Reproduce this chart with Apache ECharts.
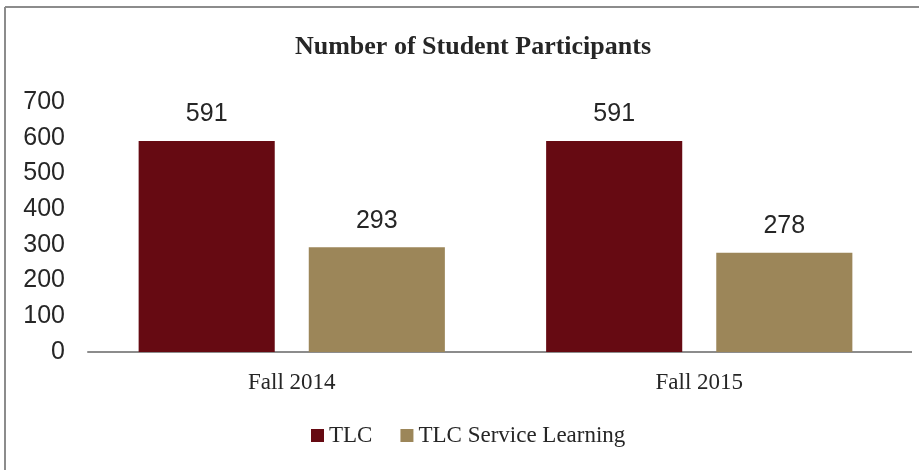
<!DOCTYPE html>
<html>
<head>
<meta charset="utf-8">
<script src="https://cdn.jsdelivr.net/npm/echarts@6/dist/echarts.min.js"></script>
<style>
  html, body { margin: 0; padding: 0; background: #fff; }
  #main { width: 919px; height: 470px; }
</style>
</head>
<body>
<div id="main"></div>
<script>
// chart data
const categories = ['Fall 2014', 'Fall 2015'];
const tlcValues = [591, 591];
const serviceValues = [293, 278];
const seriesNames = ['TLC', 'TLC Service Learning'];

const chart = echarts.init(document.getElementById('main'));

const labelStyle = {
  show: true,
  position: 'top',
  distance: 14,
  fontFamily: 'Liberation Sans',
  fontSize: 25,
  color: '#262626'
};

const option = {
  backgroundColor: '#fff',
  animation: false,
  title: {
    text: 'Number of Student Participants',
    left: 468,
    top: 29,
    textAlign: 'center',
    textStyle: {
      fontFamily: 'Liberation Serif',
      fontWeight: 'bold',
      fontSize: 26,
      color: '#262626'
    }
  },
  legend: {
    top: 424,
    left: 311,
    padding: 0,
    itemWidth: 13,
    itemHeight: 13,
    itemGap: 28,
    itemStyle: { borderWidth: 0 },
    icon: 'rect',
    textStyle: {
      fontFamily: 'Liberation Serif',
      fontSize: 23,
      color: '#262626'
    },
    data: seriesNames
  },
  grid: {
    left: 88,
    right: 16,
    top: 102,
    bottom: 118
  },
  xAxis: {
    type: 'category',
    data: categories,
    axisLine: { lineStyle: { color: '#8c8c8c', width: 2 } },
    axisTick: { show: false },
    axisLabel: {
      margin: 19,
      fontFamily: 'Liberation Serif',
      fontSize: 23,
      color: '#262626'
    }
  },
  yAxis: {
    type: 'value',
    min: 0,
    max: 700,
    interval: 100,
    axisLine: { show: false },
    axisTick: { show: false },
    splitLine: { show: false },
    axisLabel: {
      margin: 23,
      fontFamily: 'Liberation Sans',
      fontSize: 25,
      color: '#262626'
    }
  },
  series: [
    {
      name: seriesNames[0],
      type: 'bar',
      data: tlcValues,
      barWidth: '33.4%',
      barGap: '25%',
      itemStyle: { color: '#660a12' },
      label: labelStyle
    },
    {
      name: seriesNames[1],
      type: 'bar',
      data: serviceValues,
      barWidth: '33.4%',
      itemStyle: { color: '#9c8659' },
      label: labelStyle
    }
  ],
  graphic: [
    {
      type: 'line',
      shape: { x1: 5, y1: 7, x2: 919, y2: 7 },
      style: { stroke: '#8c8c8c', lineWidth: 2 }
    },
    {
      type: 'line',
      shape: { x1: 5, y1: 7, x2: 5, y2: 470 },
      style: { stroke: '#8c8c8c', lineWidth: 2 }
    },
    {
      // axis baseline runs a little past the last category band
      type: 'line',
      shape: { x1: 900, y1: 352, x2: 912, y2: 352 },
      style: { stroke: '#8c8c8c', lineWidth: 2 }
    }
  ]
};

chart.setOption(option);
</script>
</body>
</html>
